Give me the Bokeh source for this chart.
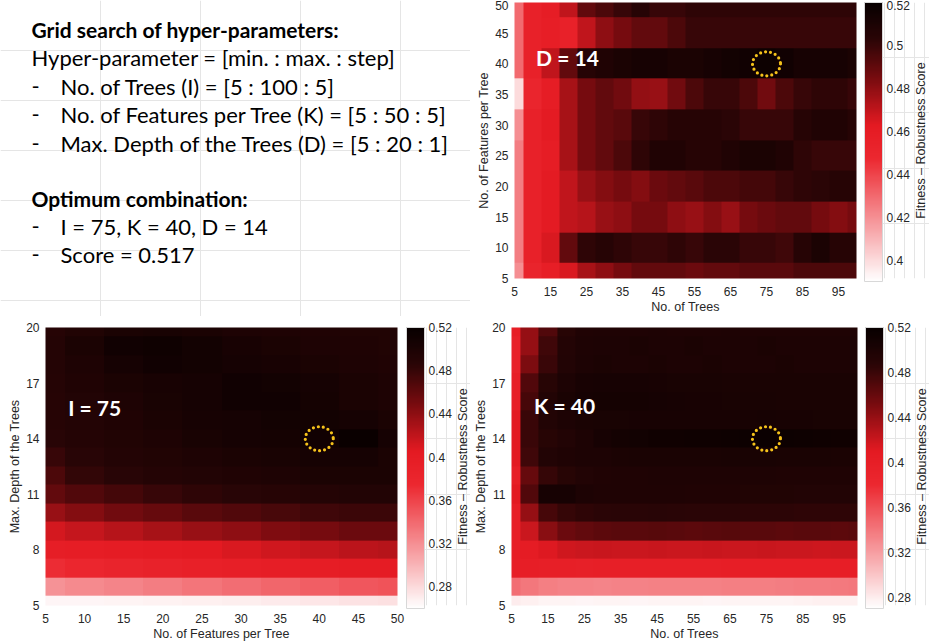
import math
import numpy as np
from bokeh.plotting import figure
from bokeh.layouts import row, column
from bokeh.models import LinearColorMapper, ColorBar, FixedTicker, Range1d, Label
from bokeh.core.properties import value
from bokeh.embed import file_html
from bokeh.resources import INLINE

# ---------------- data ----------------
trees = [5, 10, 15, 20, 25, 30, 35, 40, 45, 50, 55, 60, 65, 70, 75, 80, 85, 90, 95, 100]
features = [5, 10, 15, 20, 25, 30, 35, 40, 45, 50]
depths = [5, 6, 7, 8, 9, 10, 11, 12, 13, 14, 15, 16, 17, 18, 19, 20]

opt_trees, opt_features, opt_depth, opt_score = 75, 40, 14, 0.517

# D = 14 : rows = features (5 -> 50), columns = trees (5 -> 100)
score_trees_features = [
    [0.420, 0.452, 0.458, 0.465, 0.475, 0.480, 0.485, 0.490, 0.490, 0.490, 0.488, 0.490, 0.490, 0.492, 0.492, 0.492, 0.495, 0.495, 0.495, 0.495],
    [0.425, 0.455, 0.465, 0.490, 0.502, 0.505, 0.502, 0.500, 0.500, 0.502, 0.500, 0.503, 0.503, 0.500, 0.500, 0.498, 0.505, 0.510, 0.505, 0.505],
    [0.425, 0.455, 0.462, 0.470, 0.472, 0.478, 0.480, 0.485, 0.485, 0.480, 0.478, 0.482, 0.478, 0.485, 0.488, 0.490, 0.490, 0.485, 0.482, 0.485],
    [0.425, 0.455, 0.462, 0.470, 0.478, 0.482, 0.485, 0.482, 0.488, 0.490, 0.492, 0.495, 0.495, 0.497, 0.497, 0.500, 0.502, 0.503, 0.505, 0.505],
    [0.425, 0.455, 0.460, 0.475, 0.485, 0.490, 0.495, 0.502, 0.508, 0.508, 0.505, 0.505, 0.508, 0.510, 0.510, 0.508, 0.502, 0.500, 0.500, 0.500],
    [0.420, 0.455, 0.462, 0.475, 0.485, 0.490, 0.492, 0.500, 0.502, 0.505, 0.505, 0.505, 0.503, 0.500, 0.500, 0.500, 0.505, 0.508, 0.508, 0.505],
    [0.400, 0.450, 0.460, 0.475, 0.485, 0.490, 0.486, 0.479, 0.478, 0.486, 0.495, 0.500, 0.500, 0.495, 0.486, 0.495, 0.500, 0.502, 0.502, 0.500],
    [0.430, 0.455, 0.470, 0.490, 0.505, 0.508, 0.510, 0.512, 0.512, 0.510, 0.510, 0.512, 0.514, 0.515, 0.517, 0.515, 0.512, 0.512, 0.512, 0.510],
    [0.430, 0.455, 0.458, 0.455, 0.470, 0.480, 0.485, 0.490, 0.490, 0.495, 0.500, 0.500, 0.500, 0.500, 0.500, 0.500, 0.500, 0.500, 0.500, 0.500],
    [0.430, 0.455, 0.460, 0.470, 0.490, 0.495, 0.500, 0.505, 0.500, 0.500, 0.502, 0.502, 0.502, 0.502, 0.502, 0.502, 0.502, 0.502, 0.502, 0.502],
]

# I = 75 : rows = depths (5 -> 20), columns = features (5 -> 50)
score_features_depth = [
    [0.266, 0.266, 0.267, 0.268, 0.269, 0.270, 0.272, 0.274, 0.276, 0.277],
    [0.318, 0.322, 0.326, 0.330, 0.334, 0.338, 0.342, 0.346, 0.350, 0.352],
    [0.372, 0.378, 0.384, 0.388, 0.392, 0.395, 0.398, 0.400, 0.402, 0.402],
    [0.398, 0.400, 0.402, 0.404, 0.406, 0.410, 0.414, 0.418, 0.422, 0.424],
    [0.412, 0.418, 0.424, 0.430, 0.436, 0.440, 0.446, 0.450, 0.455, 0.456],
    [0.436, 0.444, 0.452, 0.458, 0.464, 0.468, 0.472, 0.476, 0.478, 0.478],
    [0.460, 0.468, 0.474, 0.480, 0.484, 0.488, 0.490, 0.492, 0.494, 0.494],
    [0.470, 0.482, 0.488, 0.492, 0.494, 0.496, 0.498, 0.500, 0.500, 0.500],
    [0.480, 0.488, 0.493, 0.495, 0.498, 0.500, 0.502, 0.505, 0.505, 0.500],
    [0.488, 0.492, 0.495, 0.498, 0.502, 0.505, 0.506, 0.510, 0.517, 0.505],
    [0.490, 0.493, 0.496, 0.500, 0.504, 0.505, 0.508, 0.508, 0.505, 0.500],
    [0.490, 0.494, 0.498, 0.502, 0.505, 0.510, 0.510, 0.506, 0.500, 0.498],
    [0.491, 0.496, 0.500, 0.503, 0.505, 0.510, 0.508, 0.505, 0.500, 0.498],
    [0.492, 0.498, 0.505, 0.510, 0.508, 0.505, 0.503, 0.500, 0.498, 0.496],
    [0.492, 0.500, 0.510, 0.512, 0.508, 0.503, 0.500, 0.498, 0.497, 0.495],
    [0.490, 0.495, 0.500, 0.502, 0.500, 0.498, 0.497, 0.496, 0.495, 0.495],
]

# K = 40 : rows = depths (5 -> 20), columns = trees (5 -> 100)
score_trees_depth = [
    [0.280, 0.278, 0.276, 0.276, 0.275, 0.276, 0.276, 0.275, 0.276, 0.276, 0.276, 0.275, 0.276, 0.276, 0.276, 0.276, 0.277, 0.278, 0.278, 0.278],
    [0.345, 0.340, 0.336, 0.334, 0.334, 0.333, 0.334, 0.334, 0.335, 0.335, 0.335, 0.335, 0.336, 0.336, 0.336, 0.337, 0.338, 0.338, 0.339, 0.340],
    [0.398, 0.400, 0.398, 0.398, 0.397, 0.398, 0.398, 0.398, 0.398, 0.399, 0.399, 0.399, 0.400, 0.400, 0.400, 0.400, 0.400, 0.400, 0.400, 0.400],
    [0.400, 0.405, 0.412, 0.418, 0.420, 0.421, 0.420, 0.420, 0.421, 0.420, 0.420, 0.421, 0.420, 0.420, 0.421, 0.420, 0.420, 0.419, 0.420, 0.420],
    [0.400, 0.420, 0.445, 0.458, 0.462, 0.465, 0.466, 0.466, 0.467, 0.466, 0.465, 0.466, 0.467, 0.466, 0.466, 0.465, 0.466, 0.466, 0.465, 0.466],
    [0.400, 0.440, 0.475, 0.482, 0.485, 0.487, 0.488, 0.488, 0.489, 0.488, 0.487, 0.487, 0.487, 0.486, 0.486, 0.486, 0.485, 0.485, 0.485, 0.485],
    [0.410, 0.470, 0.505, 0.505, 0.500, 0.498, 0.498, 0.498, 0.498, 0.498, 0.497, 0.497, 0.497, 0.496, 0.496, 0.496, 0.495, 0.495, 0.495, 0.495],
    [0.400, 0.460, 0.482, 0.490, 0.495, 0.497, 0.498, 0.498, 0.499, 0.499, 0.499, 0.499, 0.499, 0.499, 0.499, 0.498, 0.498, 0.498, 0.498, 0.498],
    [0.410, 0.478, 0.495, 0.498, 0.500, 0.500, 0.501, 0.502, 0.502, 0.502, 0.502, 0.502, 0.503, 0.503, 0.503, 0.502, 0.502, 0.502, 0.501, 0.501],
    [0.410, 0.480, 0.490, 0.495, 0.500, 0.505, 0.508, 0.510, 0.512, 0.512, 0.513, 0.513, 0.514, 0.515, 0.517, 0.515, 0.514, 0.513, 0.512, 0.512],
    [0.410, 0.480, 0.495, 0.500, 0.502, 0.503, 0.503, 0.504, 0.504, 0.504, 0.504, 0.504, 0.504, 0.504, 0.505, 0.504, 0.504, 0.503, 0.503, 0.503],
    [0.400, 0.475, 0.495, 0.502, 0.506, 0.507, 0.507, 0.507, 0.506, 0.505, 0.504, 0.504, 0.503, 0.503, 0.503, 0.502, 0.502, 0.502, 0.502, 0.502],
    [0.400, 0.470, 0.490, 0.500, 0.504, 0.505, 0.505, 0.505, 0.504, 0.503, 0.503, 0.503, 0.502, 0.502, 0.502, 0.502, 0.502, 0.502, 0.502, 0.502],
    [0.395, 0.450, 0.480, 0.495, 0.500, 0.501, 0.500, 0.500, 0.501, 0.500, 0.500, 0.501, 0.500, 0.500, 0.500, 0.501, 0.500, 0.500, 0.500, 0.500],
    [0.395, 0.440, 0.478, 0.494, 0.499, 0.500, 0.500, 0.501, 0.500, 0.500, 0.501, 0.500, 0.500, 0.500, 0.501, 0.500, 0.500, 0.500, 0.500, 0.500],
    [0.400, 0.440, 0.470, 0.490, 0.497, 0.498, 0.498, 0.498, 0.499, 0.498, 0.498, 0.498, 0.499, 0.498, 0.498, 0.498, 0.498, 0.498, 0.498, 0.498],
]

# axis ticks
trees_ticks = [5, 15, 25, 35, 45, 55, 65, 75, 85, 95]
features_ticks = [5, 10, 15, 20, 25, 30, 35, 40, 45, 50]
depth_ticks = [5, 8, 11, 14, 17, 20]

# colour-bar ranges and ticks
cbar_top_range = (0.39, 0.52)
cbar_top_ticks = [0.40, 0.42, 0.44, 0.46, 0.48, 0.50, 0.52]
cbar_top_labels = ["0.4", "0.42", "0.44", "0.46", "0.48", "0.5", "0.52"]
cbar_bl_range = (0.26, 0.52)
cbar_br_range = (0.27, 0.52)
cbar_bottom_ticks = [0.28, 0.32, 0.36, 0.40, 0.44, 0.48, 0.52]
cbar_bottom_labels = ["0.28", "0.32", "0.36", "0.4", "0.44", "0.48", "0.52"]

x_label_trees = "No. of Trees"
x_label_features = "No. of Features per Tree"
y_label_depth = "Max. Depth of the Trees"
cbar_title = "Fitness \u2013 Robustness Score"

# ---------------- style ----------------
AX_FONT = "Liberation Sans"
TXT_FONT = "Lato"
AX_COLOR = "#262626"
YELLOW = "#F5C21B"
BORDER_B = 35
BAR_W = 18
TITLE_X = 56


def make_palette(n=256):
    anchors = [(0.0, (255, 255, 255)), (0.44, (236, 40, 48)), (0.56, (228, 26, 34)),
               (0.72, (125, 12, 16)), (0.87, (42, 5, 6)), (1.0, (8, 0, 0))]
    pal = []
    for i in range(n):
        t = i / (n - 1)
        for (t0, c0), (t1, c1) in zip(anchors, anchors[1:]):
            if t <= t1:
                f = (t - t0) / (t1 - t0)
                c = tuple(int(round(a + (b - a) * f)) for a, b in zip(c0, c1))
                break
        pal.append("#%02x%02x%02x" % c)
    return pal


PALETTE = make_palette()


def style_axis(ax, standoff):
    ax.axis_line_color = None
    ax.major_tick_line_color = None
    ax.minor_tick_line_color = None
    ax.major_tick_out = 0
    ax.major_tick_in = 0
    ax.major_label_standoff = standoff
    ax.axis_label_standoff = 1
    ax.major_label_text_font = AX_FONT
    ax.major_label_text_font_size = "12px"
    ax.major_label_text_color = AX_COLOR
    ax.axis_label_text_font = AX_FONT
    ax.axis_label_text_font_size = "12.5px"
    ax.axis_label_text_font_style = "normal"
    ax.axis_label_text_color = AX_COLOR


def heatmap(xs, ys, grid, crange, xticks, yticks, xlabel, ylabel, opt_xy,
            tag, tag_xy, left, frame_w, right, cb_w, height, top, cticks, clabels):
    mapper = LinearColorMapper(palette=PALETTE, low=crange[0], high=crange[1])
    dx = xs[1] - xs[0]
    dy = ys[1] - ys[0]
    p = figure(width=left + frame_w + right, height=height,
               x_range=Range1d(xs[0], xs[-1]), y_range=Range1d(ys[0], ys[-1]),
               output_backend="svg", toolbar_location=None, tools="",
               min_border_left=left, min_border_right=right, min_border_top=top,
               min_border_bottom=BORDER_B, outline_line_color=None)
    p.grid.visible = False
    p.image(image=[np.array(grid, dtype=float)], x=xs[0] - dx / 2, y=ys[0] - dy / 2,
            dw=dx * len(xs), dh=dy * len(ys), color_mapper=mapper)
    p.ellipse(x=[opt_xy[0]], y=[opt_xy[1]], width=28, height=24,
              width_units="screen", height_units="screen",
              fill_color=None, line_color=YELLOW, line_width=3.2,
              line_dash="0 5", line_cap="round")
    p.text(x=[tag_xy[0]], y=[tag_xy[1]], text=[tag], text_font=value(TXT_FONT),
           text_font_style="bold", text_font_size="21px", text_color="white",
           text_baseline="middle", text_align="left")
    p.xaxis.ticker = FixedTicker(ticks=xticks)
    p.yaxis.ticker = FixedTicker(ticks=yticks)
    p.xaxis.axis_label = xlabel
    p.yaxis.axis_label = ylabel
    style_axis(p.xaxis[0], 8)
    style_axis(p.yaxis[0], 6)

    frame_h = height - top - BORDER_B
    cb = figure(width=cb_w, height=height, x_range=Range1d(0, cb_w), y_range=Range1d(0, 1),
                output_backend="svg", toolbar_location=None, tools="",
                min_border_left=0, min_border_right=0, min_border_top=top,
                min_border_bottom=BORDER_B, outline_line_color=None,
                x_axis_location=None, y_axis_location=None)
    bar = ColorBar(color_mapper=mapper, location="top_left", width=BAR_W, height=frame_h,
                   padding=0, margin=0, ticker=FixedTicker(ticks=cticks),
                   major_label_overrides=dict(zip(cticks, clabels)),
                   label_standoff=4, major_tick_line_color=None,
                   bar_line_color="#d8d8d8", border_line_color=None,
                   background_fill_alpha=0,
                   major_label_text_font=AX_FONT, major_label_text_font_size="12px",
                   major_label_text_color=AX_COLOR)
    cb.add_layout(bar)
    cb.add_layout(Label(x=TITLE_X, y=0.5, text=cbar_title, angle=math.pi / 2,
                        text_align="center", text_baseline="middle",
                        text_font=AX_FONT, text_font_size="12.5px",
                        text_color=AX_COLOR))
    return row(p, cb)


# ---------------- text panel ----------------
TW, H1, H2 = 470, 316, 327
tf = figure(width=TW, height=H1, x_range=Range1d(0, TW), y_range=Range1d(H1, 0),
            output_backend="svg", toolbar_location=None, tools="",
            min_border=0, outline_line_color=None,
            x_axis_location=None, y_axis_location=None)

header1 = "Grid search of hyper-parameters:"
line1 = "Hyper-parameter = [min. : max. : step]"
bullets1 = [
    f"No. of Trees (I) = [{trees[0]} : {trees[-1]} : {trees[1] - trees[0]}]",
    f"No. of Features per Tree (K) = [{features[0]} : {features[-1]} : {features[1] - features[0]}]",
    f"Max. Depth of the Trees (D) = [{depths[0]} : {depths[-1]} : {depths[1] - depths[0]}]",
]
header2 = "Optimum combination:"
bullets2 = [f"I = {opt_trees}, K = {opt_features}, D = {opt_depth}", f"Score = {opt_score}"]

BASELINES = [28.5, 57.3, 85.7, 114, 142.5, 198.3, 226, 254]
X_HEAD, X_DASH, X_BUL = 31, 31, 60
HEAD_SIZE = "21px"
TXT_SIZE = "22px"

tf.text(x=[X_HEAD, X_HEAD], y=[BASELINES[0], BASELINES[5]], text=[header1, header2],
        text_font=value(TXT_FONT), text_font_style="bold", text_font_size=HEAD_SIZE,
        text_color="black", text_baseline="alphabetic")
reg_text = [line1] + bullets1 + bullets2
reg_y = [BASELINES[1], BASELINES[2], BASELINES[3], BASELINES[4], BASELINES[6], BASELINES[7]]
reg_x = [X_HEAD] + [X_BUL] * 5
tf.text(x=reg_x, y=reg_y, text=reg_text, text_font=value(TXT_FONT),
        text_font_size=TXT_SIZE, text_color="black", text_baseline="alphabetic")
dash_y = [BASELINES[2], BASELINES[3], BASELINES[4], BASELINES[6], BASELINES[7]]
tf.text(x=[X_DASH] * 5, y=dash_y, text=["-"] * 5, text_font=value(TXT_FONT),
        text_font_size=TXT_SIZE, text_color="black", text_baseline="alphabetic")

# ---------------- heatmaps ----------------
top_map = heatmap(trees, features, score_trees_features, cbar_top_range,
                  trees_ticks, features_ticks, x_label_trees, x_label_features,
                  (opt_trees, opt_features), f"D = {opt_depth}", (11, 41),
                  44, 342, 8, 65, H1, 2, cbar_top_ticks, cbar_top_labels)
bl_map = heatmap(features, depths, score_features_depth, cbar_bl_range,
                 features_ticks, depth_ticks, x_label_features, y_label_depth,
                 (opt_features, opt_depth), f"I = {opt_trees}", (7.9, 15.7),
                 45, 352, 9, 64, H2, 11, cbar_bottom_ticks, cbar_bottom_labels)
br_map = heatmap(trees, depths, score_trees_depth, cbar_br_range,
                 trees_ticks, depth_ticks, x_label_trees, y_label_depth,
                 (opt_trees, opt_depth), f"K = {opt_features}", (11.2, 15.8),
                 41, 346, 8, 64, H2, 11, cbar_bottom_ticks, cbar_bottom_labels)

layout = column(row(tf, top_map), row(bl_map, br_map))

open("out.html", "w").write(file_html(layout, INLINE))
